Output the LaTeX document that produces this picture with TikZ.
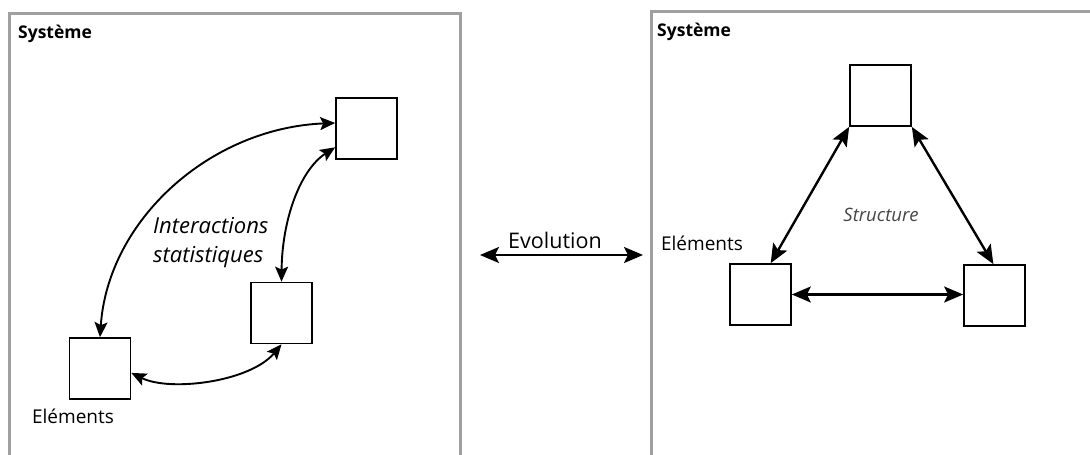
\documentclass[tikz,border=0pt]{standalone}
\usepackage{fontspec}
\setmainfont{Open Sans}
\usetikzlibrary{arrows.meta}
\definecolor{framegray}{RGB}{160,160,160}
\definecolor{labelgray}{RGB}{70,70,70}
\begin{document}
\begin{tikzpicture}[x=1pt,y=-1pt,
  elem/.style={draw,line width=1.7pt,minimum size=61pt,inner sep=0pt,fill=white},
  sysframe/.style={draw=framegray,line width=3pt},
  thinlink/.style={line width=1.9pt,{Stealth[length=15pt,width=13pt,inset=3pt]}-{Stealth[length=15pt,width=13pt,inset=3pt]}},
  thicklink/.style={line width=2.4pt,{Stealth[length=19pt,width=16pt,inset=4pt]}-{Stealth[length=19pt,width=16pt,inset=4pt]}},
  systitle/.style={font=\fontsize{17.5}{20}\selectfont\bfseries,inner sep=0pt,anchor=base west},
  eltext/.style={font=\fontsize{19}{22}\selectfont,inner sep=0pt,anchor=base},
]
\clip (0,0) rectangle (1090,455);
\fill[white] (0,0) rectangle (1090,455);

% system frames (open at the page edges)
\draw[sysframe] (9,470) -- (9,13) -- (460,13) -- (460,470);
\draw[sysframe] (651,470) -- (651,11) -- (1100,11);

\node[systitle] (sysA) at (18,38.5) {Système};
\node[systitle] (sysB) at (657,36.5) {Système};

% left system: elements with statistical interactions
\node[elem] (a1) at (366.5,128.5) {};
\node[elem] (a2) at (281.5,313) {};
\node[elem] (a3) at (100,368.5) {};
\node[eltext] (elA) at (73,423) {Eléments};
% multi-line node: its base anchor sits on the last line
\node[font=\fontsize{22}{29}\selectfont\itshape,inner sep=0pt,align=left,anchor=base west] (inter) at (153,262) {Interactions\\statistiques};

\draw[thinlink] (a1.170) .. controls (210,128) and (108,220) .. (a3.north);
\draw[thinlink] (a1.211) .. controls (300,170) and (282,220) .. (a2.north);
\draw[thinlink] (a3.352) .. controls (170,392) and (250,382) .. (a2.south);

% evolution between the two states
\coordinate (evL) at (480,255);
\coordinate (evR) at (643,255);
\draw[thicklink] (evL) -- (evR);
\node[font=\fontsize{21.5}{24}\selectfont,inner sep=0pt,anchor=base] (evo) at (555,248) {Evolution};

% right system: structured elements
\node[elem] (b1) at (880.5,95.5) {};
\node[elem] (b2) at (760.5,294.5) {};
\node[elem] (b3) at (994.5,295.5) {};
\node[eltext] (elB) at (702,250.5) {Eléments};
\node[font=\fontsize{18.5}{20}\selectfont\itshape,text=labelgray,inner sep=0pt,anchor=base] (struct) at (881,221) {Structure};

\draw[thicklink] (b1.south west) -- (b2.72);
\draw[thicklink] (b1.south east) -- (b3.92);
\draw[thicklink] (b2.east) -- (b2.east -| b3.west);
\end{tikzpicture}
\end{document}
